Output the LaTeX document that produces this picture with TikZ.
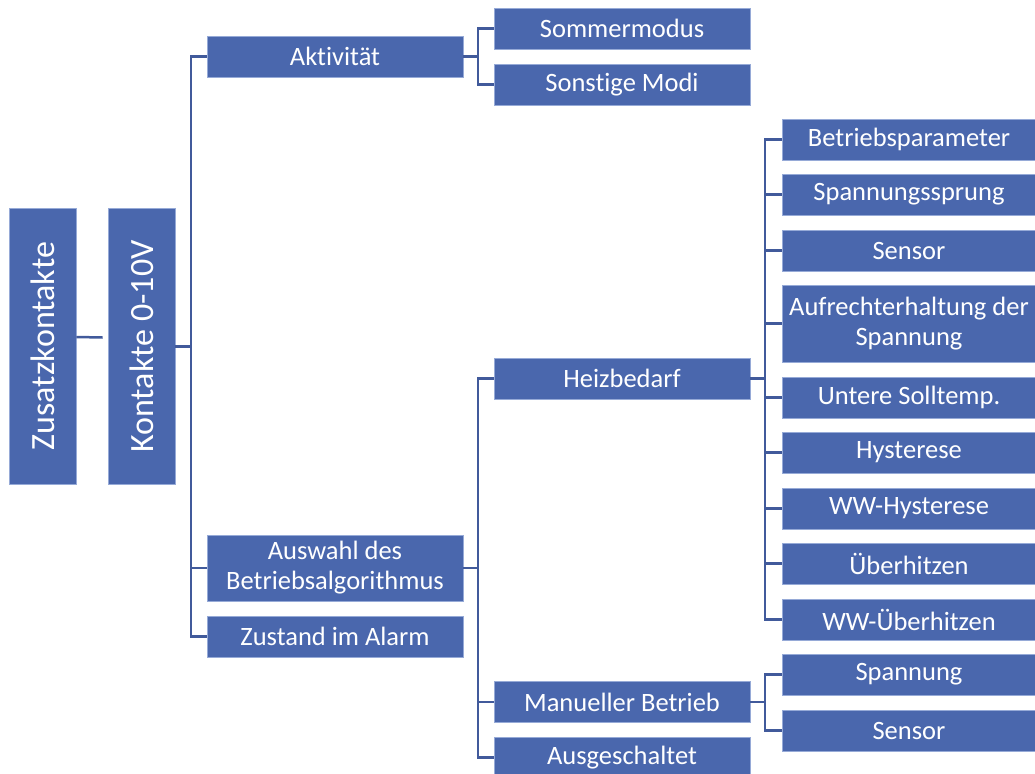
\documentclass[tikz,border=0pt]{standalone}
\usepackage{fontspec}
\setmainfont[Ligatures={NoCommon}]{Carlito}
\definecolor{boxfill}{RGB}{74,103,173}
\definecolor{boxedge}{RGB}{150,170,215}
\definecolor{linecol}{RGB}{65,90,155}
\tikzset{
  box/.style={fill=boxfill, draw=boxedge, line width=0.8pt, text=white, align=center,
    inner sep=0pt, font=\fontsize{26.5}{30}\selectfont},
  wbox/.style={box, minimum width=256pt, minimum height=41pt},
  rbox/.style={box, minimum width=254pt, minimum height=41pt},
  vbox/.style={box, minimum width=67pt, minimum height=276pt},
  conn/.style={draw=linecol, line width=2.5pt},
}
\begin{document}
\begin{tikzpicture}[x=1pt,y=-1pt]
\useasboundingbox (0,0) rectangle (1035,773);
% left vertical boxes
\node[vbox] (zk) at (42.5,346) {\rotatebox{90}{\fontsize{34}{38}\selectfont Zusatzkontakte}};
\node[vbox] (kon) at (141.5,346.5) {\rotatebox{90}{\fontsize{34}{38}\selectfont Kontakte 0-10V}};
% level 1
\node[wbox] (akt) at (335,56.5) {Aktivität};
\node[wbox, minimum height=66pt] (ausw) at (335,568) {Auswahl des\\Betriebsalgorithmus};
\node[wbox] (zust) at (335,636.5) {Zustand im Alarm};
% level 2
\node[wbox] (som) at (622,28.5) {Sommermodus};
\node[wbox] (sonst) at (622,84.5) {Sonstige Modi};
\node[wbox] (heiz) at (622,378.5) {Heizbedarf};
\node[wbox] (man) at (622,702) {Manueller Betrieb};
\node[wbox] (aus) at (622,757.5) {Ausgeschaltet};
% level 3
\node[rbox] (bp) at (909,139.5) {Betriebsparameter};
\node[rbox] (sps) at (909,194.5) {Spannungssprung};
\node[rbox] (sen) at (909,250.5) {Sensor};
\node[rbox, minimum height=77pt] (auf) at (909,323.5) {Aufrechterhaltung der\\Spannung};
\node[rbox] (ust) at (909,397.5) {Untere Solltemp.};
\node[rbox] (hys) at (909,452.5) {Hysterese};
\node[rbox] (wwh) at (909,508.5) {WW-Hysterese};
\node[rbox] (ueb) at (909,563.5) {Überhitzen};
\node[rbox] (wwu) at (909,619.5) {WW-Überhitzen};
\node[rbox] (spa) at (909,674.5) {Spannung};
\node[rbox] (sen2) at (909,730.5) {Sensor};
% bus coordinates
\coordinate (b1) at (191,346.5);
\coordinate (b2) at (478,56.5);
\coordinate (b3) at (478,568);
\coordinate (b4) at (765,378.5);
\coordinate (b5) at (765,702);
% connectors
\draw[conn] ([yshift=9pt]zk.east) -- ([yshift=9pt,xshift=-5pt]kon.west);
\draw[conn] (kon.east) -- (b1);
\foreach \n in {akt,ausw,zust} \draw[conn] (\n.west) -| (b1);
\draw[conn] (akt.east) -- (b2);
\foreach \n in {som,sonst} \draw[conn] (\n.west) -| (b2);
\draw[conn] (ausw.east) -- (b3);
\foreach \n in {heiz,man,aus} \draw[conn] (\n.west) -| (b3);
\draw[conn] (heiz.east) -- (b4);
\foreach \n in {bp,sps,sen,auf,ust,hys,wwh,ueb,wwu} \draw[conn] (\n.west) -| (b4);
\draw[conn] (man.east) -- (b5);
\foreach \n in {spa,sen2} \draw[conn] (\n.west) -| (b5);
\end{tikzpicture}
\end{document}
